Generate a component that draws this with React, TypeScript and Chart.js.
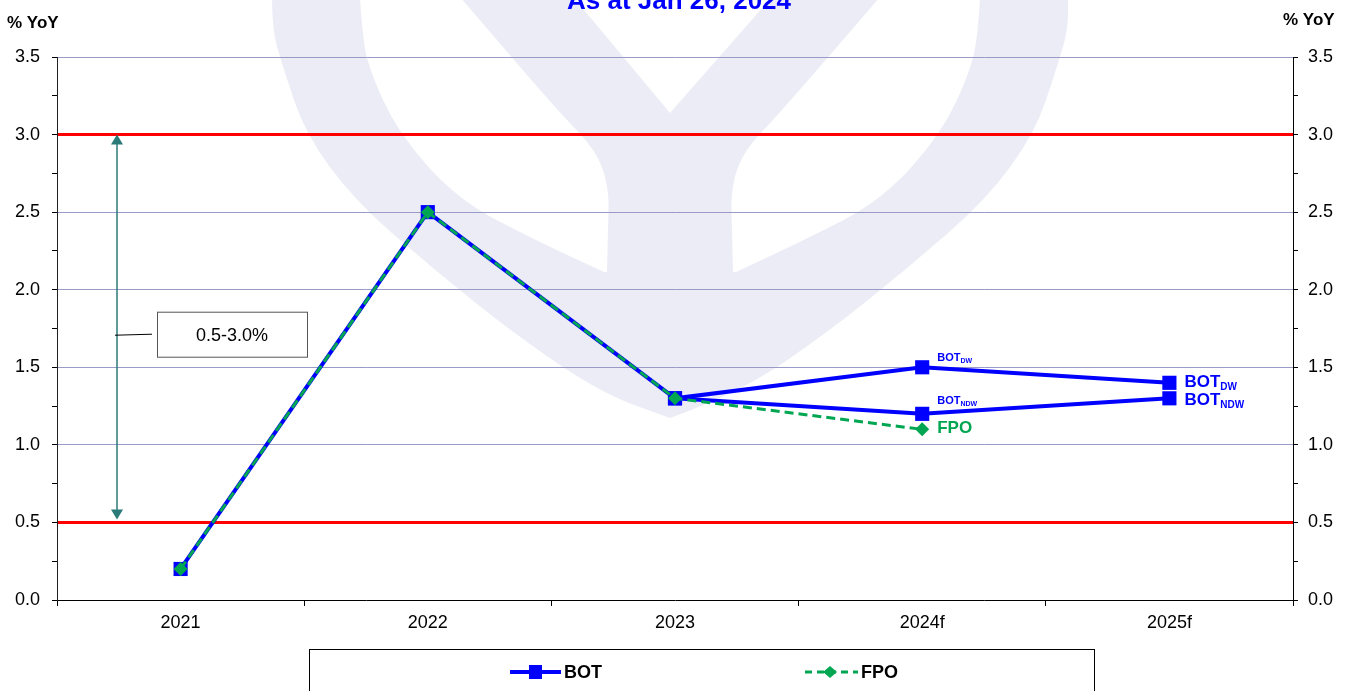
import React, { useEffect, useRef } from 'react';
import { Chart, registerables } from 'chart.js';

Chart.register(...registerables);

const FONT = '"Liberation Sans", Arial, Helvetica, sans-serif';

// ---- data ----
const categories = ['2021', '2022', '2023', '2024f', '2025f'];
const botDW: (number | null)[] = [0.2, 2.5, 1.3, 1.5, 1.4];
const botNDW: (number | null)[] = [null, null, 1.3, 1.2, 1.3];
const fpo: (number | null)[] = [0.2, 2.5, 1.3, 1.1, null];
const targetBand = [0.5, 3.0];
const yMin = 0;
const yMax = 3.5;
const yStep = 0.25;
const titleText = 'As at Jan 26, 2024';
const axisTitle = '% YoY';
const bandLabel = '0.5-3.0%';
const legendItems = ['BOT', 'FPO'];

const BLUE = '#0000ff';
const GREEN = '#00a651';
const TEAL = '#2a7a78';
const GRID = '#9a9ac6';
const WATER = '#ececf6';

function drawSub(ctx: CanvasRenderingContext2D, x: number, y: number, main: string, sub: string, size: number, subSize: number, color: string) {
  ctx.font = `bold ${size}px ${FONT}`;
  ctx.fillStyle = color;
  ctx.textAlign = 'left';
  ctx.textBaseline = 'alphabetic';
  ctx.fillText(main, x, y);
  const w = ctx.measureText(main).width;
  ctx.font = `bold ${subSize}px ${FONT}`;
  ctx.fillText(sub, x + w, y + Math.round(size * 0.2));
}

function smoothPath(ctx: CanvasRenderingContext2D, pts: number[][], start: boolean) {
  if (start) ctx.moveTo(pts[0][0], pts[0][1]);
  else ctx.lineTo(pts[0][0], pts[0][1]);
  for (let i = 1; i < pts.length - 1; i++) {
    const mx = (pts[i][0] + pts[i + 1][0]) / 2;
    const my = (pts[i][1] + pts[i + 1][1]) / 2;
    ctx.quadraticCurveTo(pts[i][0], pts[i][1], mx, my);
  }
  const last = pts[pts.length - 1];
  ctx.lineTo(last[0], last[1]);
}

const mirror = (pts: number[][], cx: number) => pts.map(([x, y]) => [2 * cx - x, y]).reverse();

const watermarkPlugin = {
  id: 'watermark',
  beforeDraw(chart: any) {
    const ctx = chart.ctx as CanvasRenderingContext2D;
    ctx.save();
    ctx.fillStyle = '#ffffff';
    ctx.fillRect(0, 0, chart.width, chart.height);
    const cx = 670;
    const outerLeft = [[272, -2], [272, 30], [283, 67], [305, 133], [354, 200], [431, 267], [513, 333], [601, 393], [670, 418]];
    ctx.fillStyle = WATER;
    ctx.beginPath();
    smoothPath(ctx, outerLeft, true);
    smoothPath(ctx, mirror(outerLeft, cx), false);
    ctx.closePath();
    ctx.fill();
    // holes
    ctx.fillStyle = '#ffffff';
    const holeOuter = [[360, -2], [362, 30], [368, 67], [398, 133], [458, 200], [535, 240], [604, 272]];
    const holeInner = [[607, 272], [608, 230], [609, 187], [596, 150], [557, 110], [461, -2]];
    ctx.beginPath();
    smoothPath(ctx, holeOuter, true);
    smoothPath(ctx, holeInner, false);
    ctx.closePath();
    ctx.fill();
    ctx.beginPath();
    smoothPath(ctx, mirror(holeInner, cx), true);
    smoothPath(ctx, mirror(holeOuter, cx), false);
    ctx.closePath();
    ctx.fill();
    ctx.beginPath();
    ctx.moveTo(574, -2);
    ctx.lineTo(670, 113);
    ctx.lineTo(771, -2);
    ctx.closePath();
    ctx.fill();
    ctx.restore();
  },
};

const decorPlugin = {
  id: 'decor',
  afterDraw(chart: any) {
    const ctx = chart.ctx as CanvasRenderingContext2D;
    const xs = chart.scales.x;
    const ys = chart.scales.y;
    const area = chart.chartArea;
    ctx.save();

    // title (clipped at top)
    ctx.font = `bold 26px ${FONT}`;
    ctx.fillStyle = BLUE;
    ctx.textAlign = 'center';
    ctx.textBaseline = 'alphabetic';
    ctx.fillText(titleText, 679, 9);

    // axis titles
    ctx.font = `bold 17px ${FONT}`;
    ctx.fillStyle = '#000';
    ctx.textAlign = 'left';
    ctx.fillText(axisTitle, 7, 28);
    ctx.fillText(axisTitle, 1283, 25);

    // target band arrow
    const ax = area.left + 60;
    const yTop = ys.getPixelForValue(targetBand[1]);
    const yBot = ys.getPixelForValue(targetBand[0]) - 3;
    ctx.strokeStyle = TEAL;
    ctx.fillStyle = TEAL;
    ctx.lineWidth = 1.5;
    ctx.beginPath();
    ctx.moveTo(ax, yTop + 8);
    ctx.lineTo(ax, yBot - 8);
    ctx.stroke();
    ctx.beginPath();
    ctx.moveTo(ax, yTop);
    ctx.lineTo(ax - 6, yTop + 10);
    ctx.lineTo(ax + 6, yTop + 10);
    ctx.closePath();
    ctx.fill();
    ctx.beginPath();
    ctx.moveTo(ax, yBot);
    ctx.lineTo(ax - 6, yBot - 10);
    ctx.lineTo(ax + 6, yBot - 10);
    ctx.closePath();
    ctx.fill();

    // label box
    const midY = ys.getPixelForValue(1.71);
    ctx.strokeStyle = '#000';
    ctx.lineWidth = 1;
    ctx.beginPath();
    ctx.moveTo(ax - 2, midY + 0.5);
    ctx.lineTo(ax + 35, midY - 0.5);
    ctx.stroke();
    ctx.strokeStyle = '#555';
    ctx.strokeRect(157.5, midY - 22.5, 150, 45);
    ctx.fillStyle = '#000';
    ctx.font = `18px ${FONT}`;
    ctx.textAlign = 'center';
    ctx.textBaseline = 'middle';
    ctx.fillText(bandLabel, 232, midY + 1);

    // series labels
    const x24 = xs.getPixelForValue(3);
    const x25 = xs.getPixelForValue(4);
    drawSub(ctx, x24 + 15, ys.getPixelForValue(botDW[3] as number) - 6, 'BOT', 'DW', 11, 7, BLUE);
    drawSub(ctx, x24 + 15, ys.getPixelForValue(botNDW[3] as number) - 10, 'BOT', 'NDW', 11, 7, BLUE);
    ctx.font = `bold 17px ${FONT}`;
    ctx.fillStyle = GREEN;
    ctx.textAlign = 'left';
    ctx.textBaseline = 'alphabetic';
    ctx.fillText('FPO', x24 + 15, ys.getPixelForValue(fpo[3] as number) + 4);
    drawSub(ctx, x25 + 15, ys.getPixelForValue(botDW[4] as number) + 4, 'BOT', 'DW', 17, 10, BLUE);
    drawSub(ctx, x25 + 15, ys.getPixelForValue(botNDW[4] as number) + 7, 'BOT', 'NDW', 17, 10, BLUE);

    // legend
    ctx.strokeStyle = '#000';
    ctx.lineWidth = 1;
    ctx.strokeRect(309.5, 649.5, 785, 60);
    const ly = 672;
    // BOT
    ctx.strokeStyle = BLUE;
    ctx.lineWidth = 4;
    ctx.setLineDash([]);
    ctx.beginPath();
    ctx.moveTo(510, ly);
    ctx.lineTo(561, ly);
    ctx.stroke();
    ctx.fillStyle = BLUE;
    ctx.fillRect(529, ly - 7, 13, 14);
    ctx.fillStyle = '#000';
    ctx.font = `bold 18px ${FONT}`;
    ctx.textAlign = 'left';
    ctx.textBaseline = 'middle';
    ctx.fillText(legendItems[0], 564, ly + 1);
    // FPO
    ctx.strokeStyle = GREEN;
    ctx.lineWidth = 3;
    ctx.setLineDash([7, 5]);
    ctx.beginPath();
    ctx.moveTo(805, ly);
    ctx.lineTo(858, ly);
    ctx.stroke();
    ctx.setLineDash([]);
    ctx.fillStyle = GREEN;
    ctx.beginPath();
    ctx.moveTo(830, ly - 6);
    ctx.lineTo(837, ly);
    ctx.lineTo(830, ly + 6);
    ctx.lineTo(823, ly);
    ctx.closePath();
    ctx.fill();
    ctx.fillStyle = '#000';
    ctx.fillText(legendItems[1], 861, ly + 1);

    ctx.restore();
  },
};

const isMajor = (v: number) => Math.abs(v * 2 - Math.round(v * 2)) < 1e-6;

export default function App() {
  const ref = useRef<HTMLCanvasElement | null>(null);
  useEffect(() => {
    if (!ref.current) return;
    Chart.defaults.font.family = FONT;
    const gridColor = (c: any) => {
      const v = c.tick ? c.tick.value : 0;
      if (v === undefined || Math.abs(v) < 1e-6) return 'rgba(0,0,0,0)';
      if (targetBand.some((b) => Math.abs(b - v) < 1e-6)) return '#ff0000';
      return isMajor(v) ? GRID : 'rgba(0,0,0,0)';
    };
    const gridWidth = (c: any) => {
      const v = c.tick ? c.tick.value : 0;
      if (targetBand.some((b) => Math.abs(b - v) < 1e-6)) return 3;
      return 1;
    };
    const yTickCb = (v: any) => (isMajor(Number(v)) ? Number(v).toFixed(1) : '');
    const chart = new Chart(ref.current, {
      type: 'line',
      data: {
        labels: categories,
        datasets: [
          {
            label: 'FPO',
            data: fpo,
            borderColor: GREEN,
            backgroundColor: GREEN,
            borderWidth: 3,
            borderDash: [9, 5],
            pointStyle: 'rectRot',
            pointRadius: 7,
            pointBorderWidth: 0,
            order: 0,
            spanGaps: false,
          },
          {
            label: 'BOT',
            data: botDW,
            borderColor: BLUE,
            backgroundColor: BLUE,
            borderWidth: 4,
            pointStyle: 'rect',
            pointRadius: 10,
            pointBorderWidth: 0,
            order: 1,
          },
          {
            label: 'BOT NDW',
            data: botNDW,
            borderColor: BLUE,
            backgroundColor: BLUE,
            borderWidth: 4,
            pointStyle: 'rect',
            pointRadius: 10,
            pointBorderWidth: 0,
            order: 2,
          },
        ],
      } as any,
      options: {
        animation: false,
        responsive: false,
        maintainAspectRatio: false,
        devicePixelRatio: 1,
        layout: { padding: { top: 57, left: 0, right: 0, bottom: 0 } },
        plugins: { legend: { display: false }, tooltip: { enabled: false }, title: { display: false } },
        elements: { line: { tension: 0 } },
        scales: {
          x: {
            offset: true,
            grid: { offset: true, drawOnChartArea: false, tickLength: 6, color: '#000', tickColor: '#000' },
            border: { color: '#000', width: 1 },
            ticks: { color: '#000', font: { size: 18 }, padding: 6, maxRotation: 0, autoSkip: false },
            afterFit: (s: any) => { s.height = 91; },
          },
          y: {
            position: 'left',
            min: yMin,
            max: yMax,
            ticks: { stepSize: yStep, autoSkip: false, callback: yTickCb, color: '#000', font: { size: 18 }, padding: 12 },
            grid: { color: gridColor, lineWidth: gridWidth, tickLength: 5, tickColor: '#000', tickWidth: 1 },
            border: { color: '#222', width: 1 },
            afterFit: (s: any) => { s.width = 57; },
          },
          y2: {
            position: 'right',
            min: yMin,
            max: yMax,
            ticks: { stepSize: yStep, autoSkip: false, callback: yTickCb, color: '#000', font: { size: 18 }, padding: 10 },
            grid: { drawOnChartArea: false, tickLength: 5, tickColor: '#000', tickWidth: 1 },
            border: { color: '#000', width: 1 },
            afterFit: (s: any) => { s.width = 68; },
          },
        },
      } as any,
      plugins: [watermarkPlugin, decorPlugin],
    });
    return () => chart.destroy();
  }, []);
  return (
    <div style={{ position: 'fixed', left: 0, top: 0, width: 1361, height: 691, background: '#fff' }}>
      <canvas ref={ref} width={1361} height={691} style={{ width: 1361, height: 691, display: 'block' }} />
    </div>
  );
}
